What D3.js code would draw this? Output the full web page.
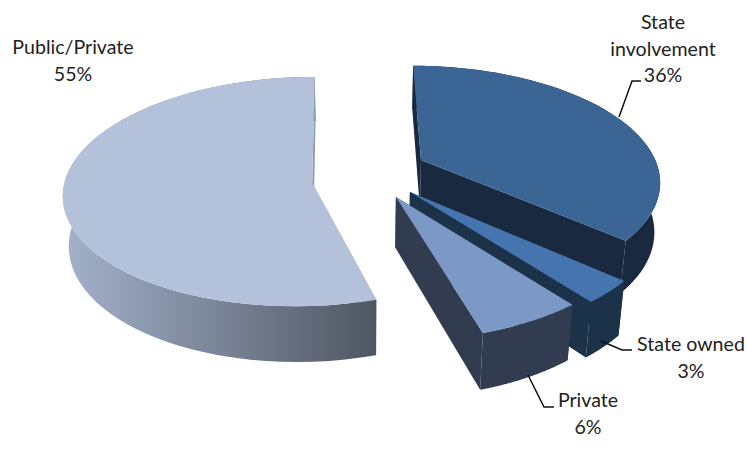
<!DOCTYPE html>
<html>
<head>
<meta charset="utf-8">
<script src="https://cdnjs.cloudflare.com/ajax/libs/d3/7.8.5/d3.min.js"></script>
<style>
  html, body { margin: 0; padding: 0; background: #fff; }
  text { font-family: Lato, "Open Sans", sans-serif; font-size: 19.6px; fill: #222; text-anchor: middle; }
</style>
</head>
<body>
<div id="chart"></div>
<script>
// data (the labels round these)
const categories = ["State involvement", "State owned", "Private", "Public/Private"]
const shares = [36.4, 3.1, 5.9, 54.6]

// label rows above the percentage
const labelNames = [["State", "involvement"], ["State owned"], ["Private"], ["Public/Private"]]

const w = 747
const h = 452

// camera: unit disc seen in perspective, vanishing towards the middle
const cam = {x0: 365, y0: 185, a: 243, b: 118, h: 51, k: 0.17, m: 0.02}

// how far each slice is pulled out of the pie, in disc units
const explodeX = [0.239, 0.183, 0.115, -0.245]
const explodeY = [0.22, -0.058, -0.075, 0.105]
const radiusY = [1, 1, 1, 0.98]

// the point of the slice is not quite at the disc centre
const hubX = [0, 0, 0.01, 0.027]
const hubY = [0, 0, -0.025, -0.088]

const topColors = ["#3a6595", "#4674ae", "#7b98c7", "#b3c2da"]
const wallColors = ["#19293f", "#1b3249", "#313c50", "#8f9cb5"]

// leader lines
const leaderX = [[619, 632, 641], [601, 622, 632], [528, 544, 554]]
const leaderY = [[117, 81, 81], [341, 350, 350], [375, 407, 407]]
const labelX = [663, 691, 588, 73]
const labelY = [29, 351, 407, 54]

function project(X, Y, Z){
  var W = 1 + cam.k * Y + cam.m * Z
  return [cam.x0 + cam.a * X / W, cam.y0 - cam.b * Y / W + cam.h * Z / W]
}

var svg = d3.select("#chart")
            .append('svg')
            .attr('width', w)
            .attr('height', h)

var grad = svg.append('defs').append('linearGradient')
              .attr('id', 'publicWall')
              .attr('gradientUnits', 'userSpaceOnUse')
              .attr('x1', 65).attr('x2', 377).attr('y1', 0).attr('y2', 0)
grad.append('stop').attr('offset', 0).attr('stop-color', '#a3b1ca')
grad.append('stop').attr('offset', 1).attr('stop-color', '#4f5662')

var arcs = d3.pie().sort(null)(shares)
var line = d3.line()

arcs.forEach(function(d, i){
  var ex = explodeX[i], ey = explodeY[i]
  var rim = function(a, z){ return project(ex + Math.sin(a), ey + radiusY[i] * Math.cos(a), z) }
  var steps = d3.range(0, 61).map(function(s){ return d.startAngle + (d.endAngle - d.startAngle) * s / 60 })
  var apexTop = project(ex + hubX[i], ey + hubY[i], 0), apexBottom = project(ex + hubX[i], ey + hubY[i], 1)
  var g = svg.append('g').attr('class', 'slice')

  var face = function(a){
    g.append('path')
     .attr('d', line([apexTop, rim(a, 0), rim(a, 1), apexBottom]) + 'Z')
     .attr('fill', wallColors[i])
  }
  var edges = [d.startAngle, d.endAngle]

  // near cut faces go under the outer wall, far ones over it
  edges.filter(function(a){ return Math.cos(a) < 0 }).forEach(face)

  var wall = steps.map(function(a){ return rim(a, 0) })
                  .concat(steps.slice().reverse().map(function(a){ return rim(a, 1) }))
  g.append('path')
   .attr('d', line(wall) + 'Z')
   .attr('fill', i == 3 ? 'url(#publicWall)' : wallColors[i])

  edges.filter(function(a){ return Math.cos(a) >= 0 }).forEach(face)

  // top
  g.append('path')
   .attr('d', line([apexTop].concat(steps.map(function(a){ return rim(a, 0) }))) + 'Z')
   .attr('fill', topColors[i])
})

leaderX.forEach(function(xs, i){
  svg.append('path')
     .attr('d', line(xs.map(function(x, j){ return [x, leaderY[i][j]] })))
     .attr('fill', 'none')
     .attr('stroke', '#111')
     .attr('stroke-width', 1.5)
})

labelNames.forEach(function(rows, i){
  rows.concat(d3.format(".0f")(shares[i]) + "%").forEach(function(t, j){
    svg.append('text')
       .attr('x', labelX[i])
       .attr('y', labelY[i] + j * 26.5)
       .text(t)
  })
})
</script>
</body>
</html>
